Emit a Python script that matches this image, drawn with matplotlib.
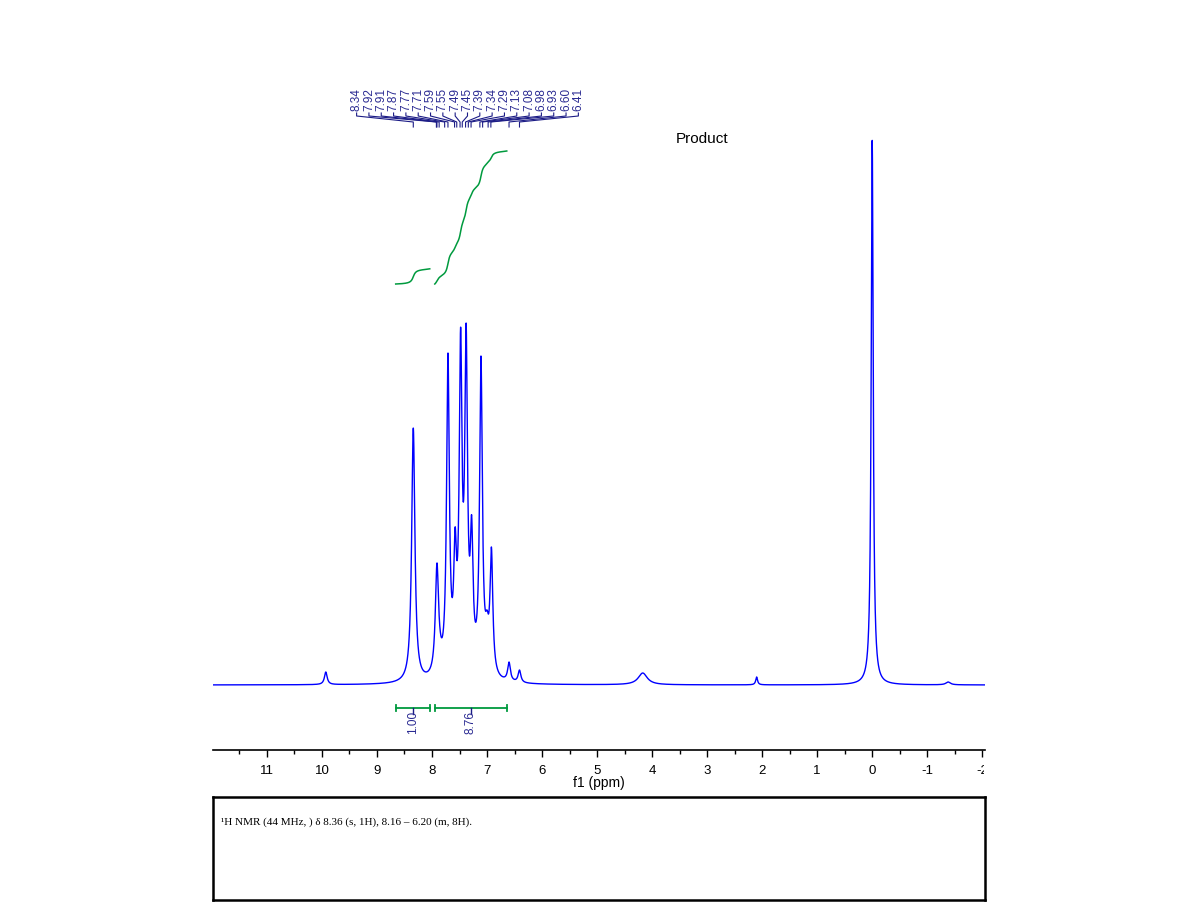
"""
1H NMR spectrum of the product - benchtop 44 MHz style
"""

import matplotlib
import matplotlib.pyplot as plt
import numpy as np
from matplotlib.transforms import Bbox, TransformedBbox, blended_transform_factory

matplotlib.use("Agg")

# peak list (ppm, height above baseline, half width)
peak_ppm = [9.93, 8.34, 7.91, 7.86, 7.71, 7.58, 7.48, 7.38, 7.28, 7.11, 7.00, 6.92,
            6.60, 6.41, 4.17, 2.10, 0.00, -1.38]
peak_height = [13, 257, 122, 60, 332, 158, 358, 362, 170, 329, 75, 138,
               23, 15, 12, 8, 545, 3]
peak_width = [0.03, 0.035, 0.035, 0.05, 0.03, 0.03, 0.03, 0.03, 0.03, 0.03, 0.04, 0.03,
              0.03, 0.03, 0.10, 0.02, 0.022, 0.05]

# labelled shifts
label_ppm = [8.34, 7.92, 7.91, 7.87, 7.77, 7.71, 7.59, 7.55, 7.49, 7.45,
             7.39, 7.34, 7.29, 7.13, 7.08, 6.98, 6.93, 6.60, 6.41]

# integration regions (start, end) and values
int_ranges = [(8.66, 8.04), (7.95, 6.64)]
int_values = [1.00, 8.76]

tick_vals = list(range(-2, 12))

title_text = "Product"
report_text = "\u00b9H NMR (44 MHz, ) \u03b4 8.36 (s, 1H), 8.16 \u2013 6.20 (m, 8H)."

BLUE = "#0000ff"
GREEN = "#009a3e"
NAVY = "#1c1c86"
LABEL = "#2a2a92"


def lorentz(x, x0, w):
    return 1.0 / (1.0 + ((x - x0) / w) ** 2)


ppm = np.linspace(12.0, -2.1, 8000)
centers = np.array(peak_ppm)
widths = np.array(peak_width)

# amplitudes chosen so that the summed curve hits the read heights at each centre
mat = np.array([[lorentz(c, c2, w2) for c2, w2 in zip(centers, widths)] for c in centers])
amps = np.linalg.solve(mat, np.array(peak_height, dtype=float))
amps = np.clip(amps, 0, None)

spec = np.zeros_like(ppm)
for a, c, w in zip(amps, centers, widths):
    spec += a * lorentz(ppm, c, w)

fig = plt.figure(figsize=(12.01, 9.16), dpi=100)
W, H = 1201, 916
ax = fig.add_axes([213 / W, (H - 750) / H, (985 - 213) / W, 670 / H])

ax.plot(ppm, spec, color=BLUE, linewidth=1.0)
ax.set_xlim(11.98, -2.05)
ax.set_ylim(-65, 605)

for s in ("left", "right", "top"):
    ax.spines[s].set_visible(False)
ax.spines["bottom"].set_linewidth(1.2)
ax.set_yticks([])
ax.set_xticks(tick_vals)
ax.set_xticks(np.arange(-1.5, 12, 1.0), minor=True)
# last label sits on the edge and is cut off, drawn separately below
ax.set_xticklabels(["" if v == tick_vals[0] else str(v) for v in tick_vals])
ax.tick_params(axis="x", which="major", length=5, width=1.0, pad=6, labelsize=9.5)
ax.tick_params(axis="x", which="minor", length=3, width=1.0)
for lab in ax.get_xticklabels():
    lab.set_fontfamily("Liberation Sans")
ax.set_xlabel("f1 (ppm)", fontfamily="Liberation Sans", fontsize=10, labelpad=-1)

edge = ax.text(tick_vals[0], -0.023, str(tick_vals[0]),
               transform=blended_transform_factory(ax.transData, ax.transAxes),
               ha="center", va="top", fontsize=9.5, fontfamily="Liberation Sans",
               clip_on=True)
edge.set_clip_box(TransformedBbox(Bbox.from_extents(0, 0, 984 / W, 1), fig.transFigure))

# integration curves and brackets
scale = 133 / int_values[1]
for (lo, hi), val in zip(int_ranges, int_values):
    m = (ppm <= lo) & (ppm >= hi)
    xs = ppm[m]
    cum = np.concatenate([[0], np.cumsum((spec[m][1:] + spec[m][:-1]) / 2 * -np.diff(xs))])
    cum = cum / cum[-1] * val * scale
    ax.plot(xs, 401 + cum, color=GREEN, linewidth=1.1)

    ax.plot([lo, hi], [-23, -23], color=GREEN, linewidth=1.3)
    ax.plot([lo, lo], [-20, -26], color=GREEN, linewidth=1.3)
    ax.plot([hi, hi], [-20, -26], color=GREEN, linewidth=1.3)
    mid = (lo + hi) / 2
    ax.plot([mid, mid], [-23, -29], color=NAVY, linewidth=1.0)
    ax.text(mid, -26, f"{val:.2f}", rotation=90, ha="center", va="top",
            fontsize=8.5, color=LABEL, fontfamily="Liberation Sans")

# peak labels with connector lines
lab_x = np.linspace(9.37, 5.34, len(label_ppm))
for xl, xp in zip(lab_x, label_ppm):
    ax.plot([xl, xl, xp, xp], [572, 569, 563, 558], color=NAVY, linewidth=0.8)
    ax.text(xl, 574, f"{xp:.2f}", rotation=90, ha="center", va="bottom",
            fontsize=8.5, color=LABEL, fontfamily="Liberation Sans")

ax.text(3.09, 546, title_text, ha="center", va="center", fontsize=11,
        fontfamily="Liberation Sans")

# report box
box = fig.add_axes([213 / W, (H - 900) / H, (985 - 213) / W, 103 / H])
box.set_xticks([])
box.set_yticks([])
for s in box.spines.values():
    s.set_linewidth(1.8)
box.text(8 / 772, 1 - 25 / 103, report_text, transform=box.transAxes,
         ha="left", va="center", fontsize=8, fontfamily="Liberation Serif")

fig.savefig("out.png", dpi=100)
plt.close(fig)
